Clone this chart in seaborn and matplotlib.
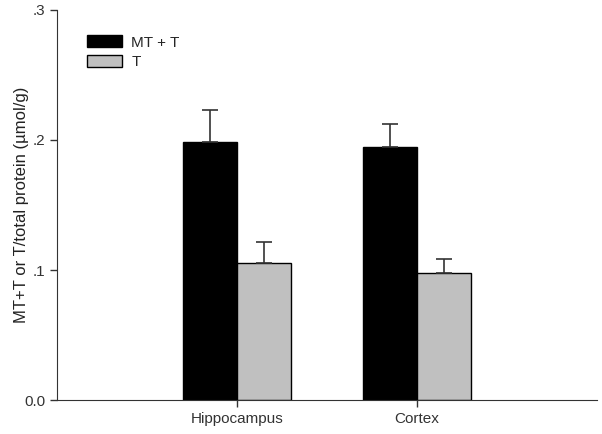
import pandas as pd
import matplotlib.pyplot as plt
import seaborn as sns

regions = ['Hippocampus', 'Cortex']
groups = ['MT + T', 'T']
mt_t_mean = [0.1987, 0.1948]
mt_t_sem = [0.0244, 0.0172]
t_mean = [0.1052, 0.0974]
t_sem = [0.0166, 0.0112]

df = pd.DataFrame({
    'region': regions * 2,
    'group': [groups[0]] * 2 + [groups[1]] * 2,
    'value': mt_t_mean + t_mean,
    'sem': mt_t_sem + t_sem,
})

sns.set_style('ticks')
plt.rcParams['font.family'] = ['Liberation Sans', 'DejaVu Sans']

fig = plt.figure(figsize=(6.02, 4.34), dpi=100)
ax = fig.add_axes([0.0947, 0.0783, 0.8970, 0.8987])

sns.barplot(df, x='region', y='value', hue='group', order=regions, hue_order=groups,
            palette=['black', '#c0c0c0'], width=0.6, errorbar=None,
            edgecolor='black', linewidth=1, saturation=1, ax=ax)

# one-sided error bars on top of each bar
for bars, g in zip(ax.containers, groups):
    sub = df[df.group == g].set_index('region').loc[regions]
    xs = [b.get_x() + b.get_width() / 2 for b in bars]
    ax.errorbar(xs, sub['value'], yerr=[[0] * len(xs), sub['sem']], fmt='none',
                ecolor='#333333', elinewidth=1.2, capsize=6, capthick=1.2)

ax.set_xlim(-1, 2)
ax.set_ylim(0, 0.3)
ax.set_yticks([0, 0.1, 0.2, 0.3])
ax.set_yticklabels(['0.0', '.1', '.2', '.3'])
ax.set_xlabel(None)
ax.set_ylabel('MT+T or T/total protein (\u00b5mol/g)', fontsize=12, color='#222222')
ax.yaxis.set_label_coords(-0.052, 0.5)
ax.tick_params(axis='both', labelsize=11, colors='#333333', length=5, width=1)
for s in ['left', 'bottom']:
    ax.spines[s].set_color('#333333')
sns.despine(ax=ax)

ax.legend(loc='upper left', bbox_to_anchor=(0.03, 0.97), frameon=False, fontsize=11,
          handlelength=2.3, handleheight=0.8, labelspacing=0.35, handletextpad=0.6)

plt.savefig('out.png', dpi=100)
